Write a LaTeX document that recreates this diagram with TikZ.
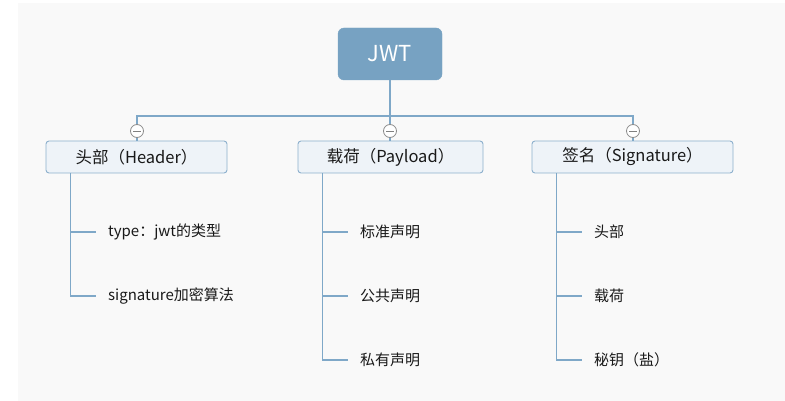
\documentclass[tikz,border=0pt]{standalone}
\usepackage{fontspec}
\setmainfont{Noto Sans CJK SC}
\usepackage{tikz}
\definecolor{jwtblue}{HTML}{77A2C2}
\definecolor{linkblue}{HTML}{7FA8C8}
\definecolor{boxfill}{HTML}{EEF3F8}
\definecolor{boxline}{HTML}{8DB0CD}
\definecolor{paper}{HTML}{F9F9F9}

\begin{document}
\begin{tikzpicture}[x=1pt,y=-1pt,
root/.style={fill=jwtblue,draw=jwtblue,rounded corners=6pt,minimum width=104pt,minimum height=52pt,text=white,font=\fontsize{22}{25}\selectfont},
part/.style n args={1}{fill=boxfill,draw=boxline,line width=0.9pt,rounded corners=3pt,minimum width=#1pt,minimum height=32pt,text=black!90,font=\fontsize{16.5}{19}\selectfont},
fold/.style={circle,draw=black!45,fill=white,line width=0.8pt,minimum size=13pt,inner sep=0pt,path picture={\draw[black!50,line width=0.8pt] ([xshift=-4pt]path picture bounding box.center) -- ([xshift=4pt]path picture bounding box.center);}},
leaf/.style={anchor=west,inner xsep=12pt,inner ysep=2pt,text=black!90,font=\fontsize{15}{18}\selectfont},
link/.style={draw=linkblue,line width=1.1pt}]
\useasboundingbox (0,0) rectangle (785,401);
\fill[paper] (18,3) rectangle (785,401);
\node[root] (jwt) at (390,54) {JWT};
\coordinate (hub) at (390,116);
\node[part=181] (header) at (136.5,157) {头部（Header）};
\node[part=185] (payload) at (390.5,157) {载荷（Payload）};
\node[part=201] (signature) at (632.5,157) {签名（Signature）};
\foreach \n/\y/\t in %
{h1/232/{type：jwt的类型},h2/296/{signature加密算法}} {
   \node[leaf] (\n) at (96,\y) {\t};
}
\foreach \n/\y/\t in %
{p1/232/标准声明,p2/296/公共声明,p3/360/私有声明} {
   \node[leaf] (\n) at (348,\y) {\t};
}
\foreach \n/\y/\t in %
{s1/232/头部,s2/296/载荷,s3/360/{秘钥（盐）}} {
   \node[leaf] (\n) at (582,\y) {\t};
}
\draw[link] (jwt.south) -- (hub);
\foreach \b/\c in {header/137,payload/390,signature/633} {
   \node[fold] (fold-\b) at (\c,131) {};
   \draw[link] (hub) -| (fold-\b.north);
   \draw[link] (fold-\b.south) -- (fold-\b.south |- \b.north);
}
\foreach \n in {h1,h2} {
   \draw[link] ([xshift=25pt]header.south west) |- (\n.west);
}
\foreach \n in {p1,p2,p3} {
   \draw[link] ([xshift=25pt]payload.south west) |- (\n.west);
}
\foreach \n in {s1,s2,s3} {
   \draw[link] ([xshift=25pt]signature.south west) |- (\n.west);
}
\end{tikzpicture}
\end{document}
